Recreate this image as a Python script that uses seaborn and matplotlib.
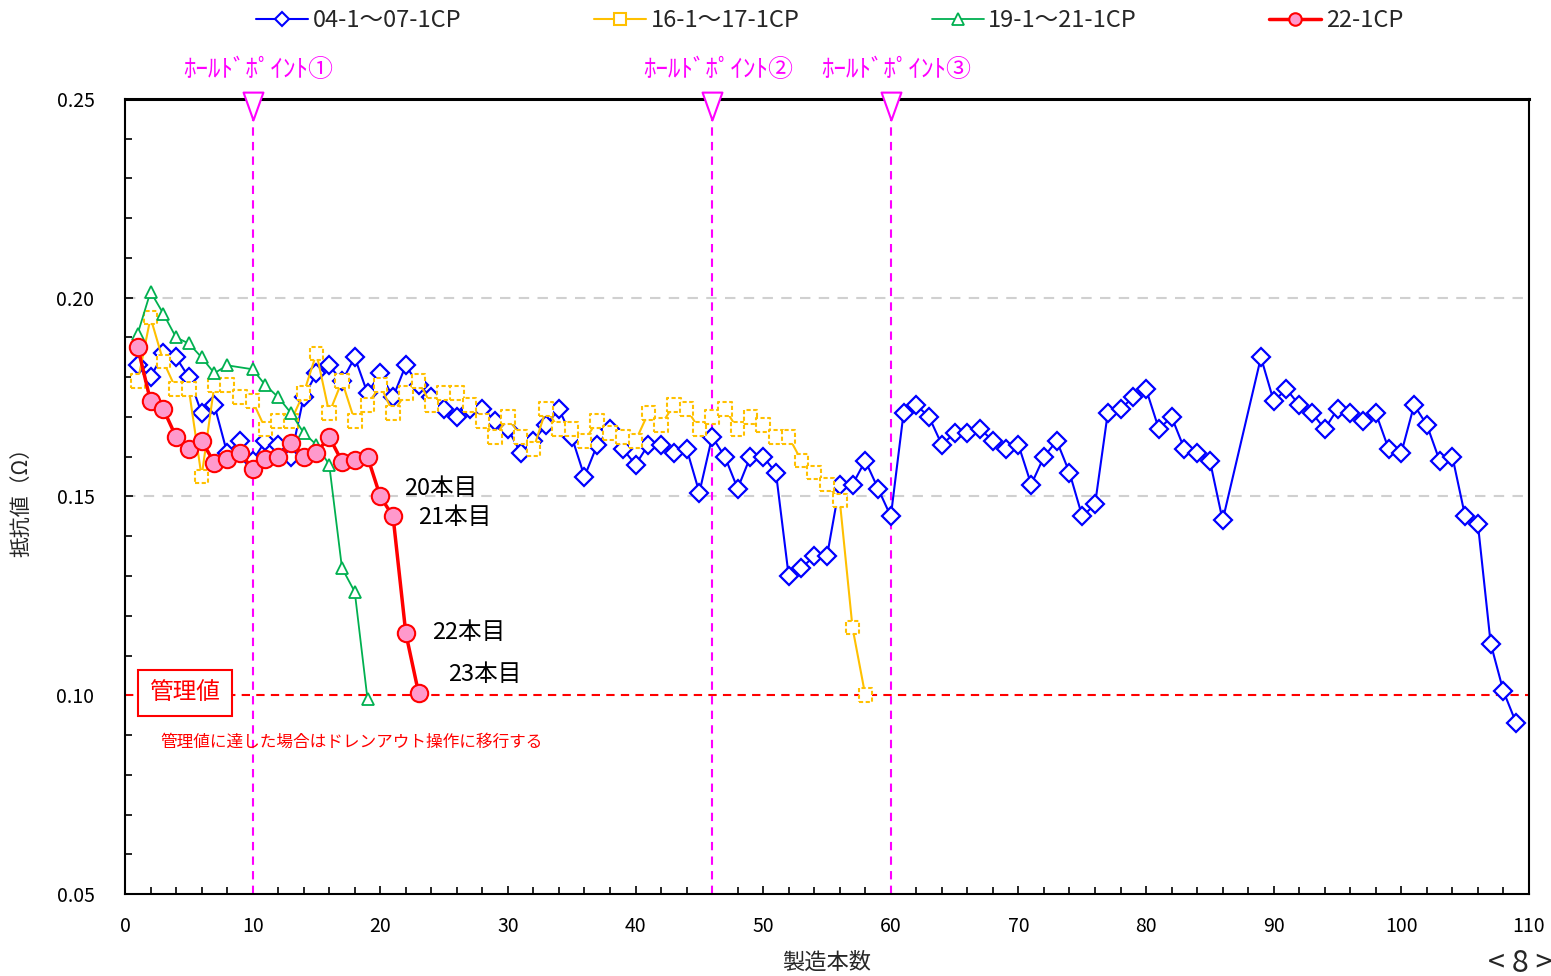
import numpy as np
import pandas as pd
import matplotlib
matplotlib.use("Agg")
import matplotlib.pyplot as plt
import seaborn as sns
from matplotlib.lines import Line2D
from matplotlib.path import Path

# --- data ---
blue_x = list(range(1, 87)) + list(range(89, 110))
blue_y = [0.183, 0.180, 0.186, 0.185, 0.180, 0.171, 0.173, 0.161, 0.164, 0.159,
          0.164, 0.163, 0.160, 0.175, 0.181, 0.183, 0.179, 0.185, 0.176, 0.181,
          0.175, 0.183, 0.178, 0.175, 0.172, 0.170, 0.172, 0.172, 0.169, 0.167,
          0.161, 0.164, 0.168, 0.172, 0.165, 0.155, 0.163, 0.167, 0.162, 0.158,
          0.163, 0.163, 0.161, 0.162, 0.151, 0.165, 0.160, 0.152, 0.160, 0.160,
          0.156, 0.130, 0.132, 0.135, 0.135, 0.153, 0.153, 0.159, 0.152, 0.145,
          0.171, 0.173, 0.170, 0.163, 0.166, 0.166, 0.167, 0.164, 0.162, 0.163,
          0.153, 0.160, 0.164, 0.156, 0.145, 0.148, 0.171, 0.172, 0.175, 0.177,
          0.167, 0.170, 0.162, 0.161, 0.159, 0.144,
          0.185, 0.174, 0.177, 0.173, 0.171, 0.167, 0.172, 0.171, 0.169, 0.171,
          0.162, 0.161, 0.173, 0.168, 0.159, 0.160, 0.145, 0.143, 0.113, 0.101,
          0.093]

orange_x = list(range(1, 59))
orange_y = [0.179, 0.195, 0.184, 0.177, 0.177, 0.155, 0.178, 0.178, 0.175, 0.174,
            0.167, 0.169, 0.169, 0.176, 0.186, 0.171, 0.179, 0.169, 0.173, 0.178,
            0.171, 0.176, 0.179, 0.173, 0.176, 0.176, 0.173, 0.169, 0.165, 0.170,
            0.165, 0.162, 0.172, 0.167, 0.167, 0.164, 0.169, 0.166, 0.165, 0.164,
            0.171, 0.168, 0.173, 0.172, 0.167, 0.170, 0.172, 0.167, 0.170, 0.168,
            0.165, 0.165, 0.159, 0.156, 0.153, 0.149, 0.117, 0.100]

green_x = list(range(1, 9)) + list(range(10, 20))
green_y = [0.191, 0.2015, 0.196, 0.190, 0.1885, 0.185, 0.181, 0.183,
           0.182, 0.178, 0.175, 0.171, 0.166, 0.163, 0.158, 0.132, 0.126, 0.099]

red_x = list(range(1, 24))
red_y = [0.1875, 0.174, 0.172, 0.165, 0.162, 0.164, 0.1585, 0.1595, 0.161, 0.157,
         0.1595, 0.160, 0.1635, 0.160, 0.161, 0.165, 0.1588, 0.1592, 0.160, 0.150,
         0.145, 0.1156, 0.1006]

series_names = ["04-1～07-1CP", "16-1～17-1CP", "19-1～21-1CP", "22-1CP"]

hold_x = [10, 46, 60]
hold_labels = ["ﾎｰﾙﾄﾞﾎﾟｲﾝﾄ①", "ﾎｰﾙﾄﾞﾎﾟｲﾝﾄ②", "ﾎｰﾙﾄﾞﾎﾟｲﾝﾄ③"]
limit_value = 0.10

count_labels = ["20本目", "21本目", "22本目", "23本目"]
count_pos = [(21.9, 0.1521), (22.95, 0.1446), (24.05, 0.1159), (25.3, 0.1053)]

BLUE = "#0000FF"
ORANGE = "#FFC000"
GREEN = "#00B050"
RED = "#FF0000"
PINK = "#FF99CC"
MAGENTA = "#FF00FF"

sns.set_style("ticks")
plt.rcParams['font.family'] = ['Noto Sans CJK JP', 'DejaVu Sans']

df_b = pd.DataFrame({"n": blue_x, "r": blue_y})
df_o = pd.DataFrame({"n": orange_x, "r": orange_y})
df_g = pd.DataFrame({"n": green_x, "r": green_y})
df_r = pd.DataFrame({"n": red_x, "r": red_y})

fig = plt.figure(figsize=(15.51, 9.76), dpi=100)
ax = fig.add_axes([0.0806, 0.0840, 0.9052, 0.8146])

# grid + control line
for gy in [0.15, 0.20]:
    ax.axhline(gy, color="#D0D0D0", lw=1.5, ls=(0, (5, 4)), zorder=0)
ax.axhline(limit_value, color=RED, lw=1.5, ls=(0, (4, 3)), zorder=1)

# hold point lines
for hx in hold_x:
    ax.axvline(hx, color=MAGENTA, lw=1.5, ls=(0, (4, 3)), zorder=1)

sns.lineplot(data=df_b, x="n", y="r", ax=ax, estimator=None, color=BLUE, lw=1.5,
             marker="D", markersize=9, markerfacecolor="white",
             markeredgecolor=BLUE, markeredgewidth=1.6, zorder=3)

sns.lineplot(data=df_o, x="n", y="r", ax=ax, estimator=None, color=ORANGE, lw=1.5,
             zorder=4)
sns.scatterplot(data=df_o, x="n", y="r", ax=ax, marker="s", s=95, color="white",
                edgecolor=ORANGE, linewidth=1.5, linestyle=(0, (2, 1.2)), zorder=4)

sns.lineplot(data=df_g, x="n", y="r", ax=ax, estimator=None, color=GREEN, lw=1.3,
             marker="^", markersize=9, markerfacecolor="white",
             markeredgecolor=GREEN, markeredgewidth=1.3, zorder=5)

sns.lineplot(data=df_r, x="n", y="r", ax=ax, estimator=None, color=RED, lw=2.5,
             marker="o", markersize=12.5, markerfacecolor=PINK,
             markeredgecolor=RED, markeredgewidth=1.5, zorder=6)

# hold point triangles and labels
tri = Path([(-10, 14), (10, 14), (0, -14), (-10, 14)],
           [Path.MOVETO, Path.LINETO, Path.LINETO, Path.CLOSEPOLY])
ax.plot(hold_x, [0.2482] * len(hold_x), ls="none", marker=tri, markersize=20,
        markerfacecolor="white", markeredgecolor=MAGENTA, markeredgewidth=1.5,
        clip_on=False, zorder=10)
for hx, lab in zip(hold_x, hold_labels):
    ax.text(hx + 0.45, 0.2573, lab, color=MAGENTA, fontsize=18, ha="center",
            va="center", clip_on=False)

for lab, (tx, ty) in zip(count_labels, count_pos):
    ax.text(tx, ty, lab, fontsize=17, ha="left", va="center", color="black")

ax.text(4.7, 0.1006, "管理値", color=RED, fontsize=17, ha="center", va="center",
        zorder=8,
        bbox=dict(boxstyle="square,pad=0.5", fc="white", ec=RED, lw=1.5))
ax.text(2.74, 0.0882, "管理値に達した場合はドレンアウト操作に移行する", color=RED,
        fontsize=12, ha="left", va="center")

ax.set_xlim(0, 110)
ax.set_ylim(0.05, 0.25)
ax.set_xticks(np.arange(0, 111, 10))
ax.set_xticks(np.arange(0, 111, 2), minor=True)
ax.set_yticks(np.arange(0.05, 0.251, 0.05))
ax.set_yticks(np.arange(0.05, 0.251, 0.01), minor=True)
ax.set_yticklabels(["%.2f" % v for v in np.arange(0.05, 0.251, 0.05)])
ax.tick_params(which="both", direction="in", length=6, width=1.2, colors="black",
               labelsize=14)
ax.tick_params(axis="y", which="both", pad=22)
ax.tick_params(axis="x", which="both", pad=16)
ax.tick_params(which="minor", length=5)

ax.set_xlabel("製造本数", fontsize=16)
ax.set_ylabel("抵抗値（Ω）", fontsize=15)
ax.xaxis.set_label_coords(0.5, -0.072)
ax.yaxis.set_label_coords(-0.066, 0.5)

for side in ["left", "right", "bottom"]:
    ax.spines[side].set_visible(True)
    ax.spines[side].set_color("black")
    ax.spines[side].set_linewidth(1.5)
ax.spines["top"].set_visible(True)
ax.spines["top"].set_color("black")
ax.spines["top"].set_linewidth(2.2)

handles = [
    Line2D([], [], color=BLUE, lw=1.5, marker="D", markersize=7,
           markerfacecolor="white", markeredgecolor=BLUE, markeredgewidth=1.5),
    Line2D([], [], color=ORANGE, lw=1.5, marker="s", markersize=8,
           markerfacecolor="white", markeredgecolor=ORANGE, markeredgewidth=1.5),
    Line2D([], [], color=GREEN, lw=1.3, marker="^", markersize=8,
           markerfacecolor="white", markeredgecolor=GREEN, markeredgewidth=1.3),
    Line2D([], [], color=RED, lw=2.5, marker="o", markersize=9,
           markerfacecolor=PINK, markeredgecolor=RED, markeredgewidth=1.5),
]
fig.legend(handles, series_names, loc="center", bbox_to_anchor=(0.535, 0.979),
           ncol=4, frameon=False, fontsize=17, handlelength=2.2,
           handletextpad=0.2, columnspacing=5.6)

fig.text(1488 / 1551, 0.013, "< 8 >", fontsize=22, ha="left", va="center")

fig.savefig("out.png", dpi=100)
plt.close(fig)
